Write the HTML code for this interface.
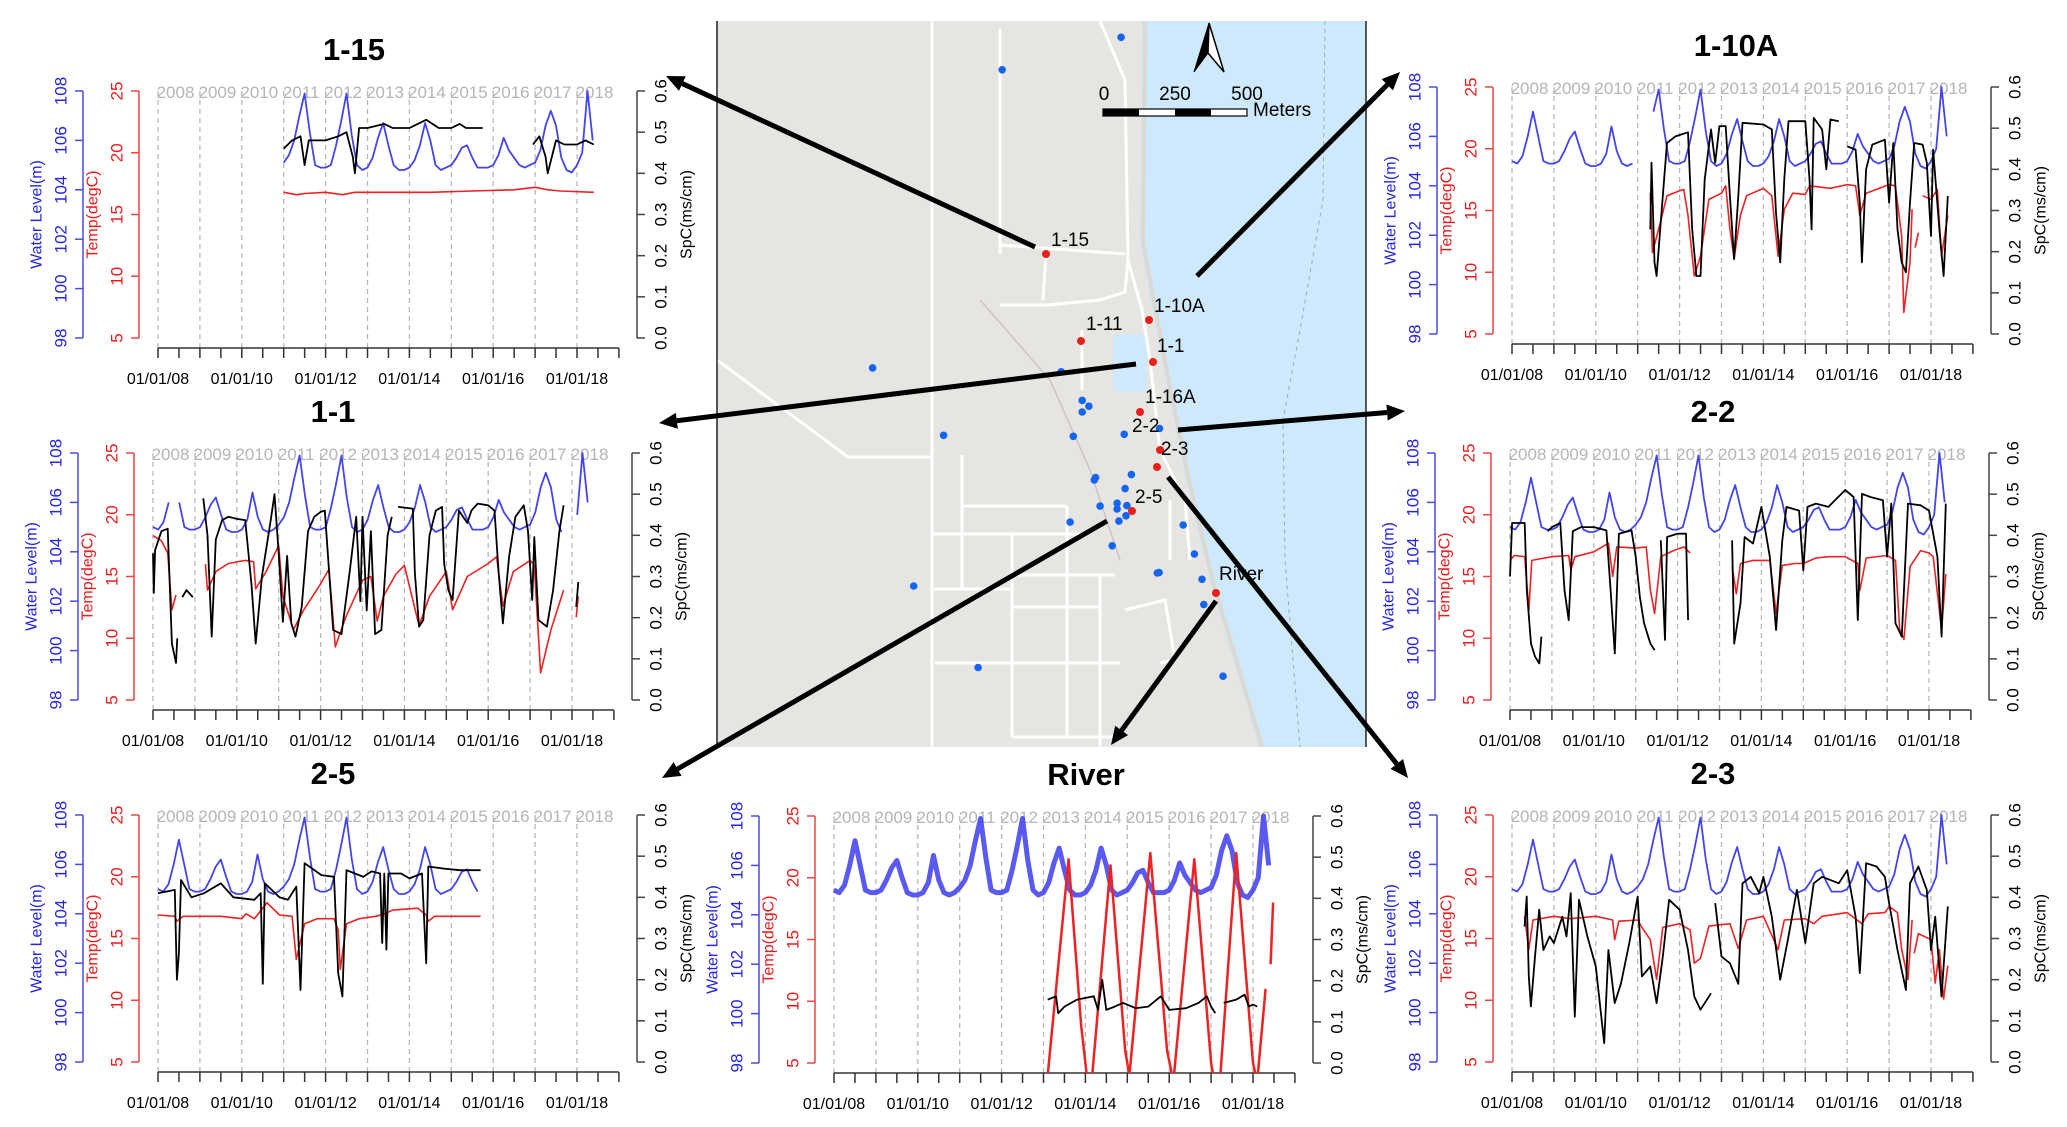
<!DOCTYPE html>
<html><head><meta charset="utf-8">
<style>
html,body{margin:0;padding:0;background:#fff;}
svg{display:block;font-family:"Liberation Sans",Arial,sans-serif;}
</style></head>
<body>
<svg id="fig" width="2067" height="1127" viewBox="0 0 2067 1127" xmlns="http://www.w3.org/2000/svg">
<g id="map"></g>
<g id="panels"></g>
<g id="arrows"></g>
</svg>
<script>
// ---------- shared water level (m), every 1/8 year from 2008.0 ----------
const wlStart = 2008.0;
const wlStep = 0.125;
const wlValues = [
105.0,104.9,105.2,106.0,107.0,106.0,105.0,104.9,
104.9,105.0,105.4,105.9,106.2,105.5,104.9,104.8,
104.8,104.9,105.3,106.4,105.4,104.9,104.8,104.9,
105.1,105.4,106.0,107.0,107.9,106.3,105.0,104.9,
104.9,105.0,105.8,106.8,107.9,106.2,105.0,104.8,
104.9,105.3,106.1,106.7,105.8,105.0,104.8,104.8,
104.9,105.2,105.8,106.7,106.0,105.0,104.8,104.9,
105.0,105.3,105.7,105.8,105.3,104.9,104.9,104.9,
105.0,105.4,106.1,105.6,105.3,105.0,104.9,105.0,
105.1,105.6,106.6,107.2,106.6,105.3,104.8,104.7,
105.0,105.5,108.0,106.0
];
const wlRange_1_15 = [[2010.97,2018.4]];
const wlRange_1_1 = [[2008.0,2008.45],[2008.6,2017.8],[2018.05,2018.375]];
const wlRange_1_10A = [[2008.0,2010.95],[2011.3,2018.375]];
const wlRange_2_2 = [[2008.0,2018.375]];
const wlRange_2_5 = [[2008.0,2015.7]];
const wlRange_river = [[2008.0,2018.375]];
const wlRange_2_3 = [[2008.0,2018.375]];

// ---------- temperature (degC) [year, value], null = gap ----------
const temp_1_15 = [[2011.0,16.8],[2011.3,16.6],[2011.5,16.7],[2012.0,16.8],[2012.4,16.6],[2012.7,16.8],[2013.5,16.8],[2014.5,16.8],[2015.5,16.9],[2016.5,17.0],[2017.0,17.2],[2017.3,17.0],[2017.6,16.9],[2018.4,16.8]];
const temp_1_1 = [[2008.0,18.3],[2008.2,17.9],[2008.35,16.9],[2008.45,12.3],[2008.55,13.5],null,[2009.25,16.0],[2009.3,13.9],[2009.5,15.4],[2009.8,16.05],[2010.2,16.3],[2010.4,16.2],[2010.45,14.0],[2010.7,15.4],[2011.0,17.5],[2011.1,13.4],[2011.35,10.7],[2011.6,12.3],[2012.0,14.4],[2012.2,15.6],[2012.35,9.3],[2012.6,11.7],[2013.0,14.7],[2013.2,15.0],[2013.35,11.4],[2013.5,13.4],[2013.8,15.2],[2014.0,15.9],[2014.35,11.0],[2014.6,13.4],[2015.0,15.4],[2015.15,12.3],[2015.5,15.0],[2016.0,16.05],[2016.2,16.6],[2016.35,12.6],[2016.6,15.4],[2017.0,16.3],[2017.1,15.9],[2017.25,7.2],[2017.5,10.7],[2017.8,13.9],null,[2018.1,11.7],[2018.15,13.4]];
const temp_1_10A = [[2011.3,16.4],[2011.35,11.6],[2011.5,13.5],[2011.7,16.2],[2012.0,16.6],[2012.1,16.7],[2012.2,14.6],[2012.35,9.7],[2012.5,11.3],[2012.7,15.9],[2013.0,16.4],[2013.1,17.0],[2013.2,13.5],[2013.3,11.1],[2013.45,14.6],[2013.6,16.2],[2014.0,16.8],[2014.2,16.2],[2014.35,11.3],[2014.5,15.1],[2014.7,16.4],[2015.0,16.3],[2015.1,17.0],[2015.6,16.8],[2016.0,17.1],[2016.2,17.0],[2016.3,14.6],[2016.45,16.4],[2017.0,17.1],[2017.15,17.0],[2017.3,12.9],[2017.35,6.75],[2017.5,10.8],[2017.55,15.1],null,[2017.62,12.0],[2017.7,13.2],null,[2017.8,16.2],[2018.0,15.9],[2018.15,16.7],[2018.25,11.3],[2018.4,14.6]];
const temp_2_2 = [[2008.0,16.3],[2008.1,16.7],[2008.35,16.6],[2008.45,12.3],[2008.52,16.3],[2009.0,16.6],[2009.4,16.7],[2009.45,15.5],[2009.55,16.6],[2010.0,17.0],[2010.35,17.7],[2010.45,15.0],[2010.55,17.4],[2011.0,17.3],[2011.25,17.4],[2011.35,13.9],[2011.45,12.0],[2011.6,16.6],[2011.9,17.1],[2012.15,17.4],[2012.3,16.9],null,[2013.3,15.8],[2013.4,13.6],[2013.5,16.05],[2013.8,16.3],[2014.2,16.3],[2014.35,12.0],[2014.5,15.9],[2014.8,16.05],[2015.0,16.05],[2015.3,16.5],[2015.6,16.6],[2016.0,16.6],[2016.3,16.05],[2016.35,13.9],[2016.5,16.5],[2017.0,16.7],[2017.2,16.3],[2017.3,10.7],[2017.4,9.9],[2017.55,15.8],[2017.8,17.1],[2018.0,16.9],[2018.1,16.6],[2018.3,10.7],[2018.4,15.2]];
const temp_2_5 = [[2008.0,16.9],[2008.4,16.8],[2008.45,16.4],[2008.6,16.8],[2009.5,16.8],[2010.0,16.6],[2010.1,17.0],[2010.3,16.6],[2010.6,17.9],[2010.9,16.9],[2011.2,16.8],[2011.3,13.3],[2011.5,16.2],[2011.8,16.6],[2012.2,16.6],[2012.3,15.7],[2012.35,12.5],[2012.5,16.2],[2012.8,16.6],[2013.2,16.8],[2013.4,17.0],[2013.6,17.3],[2014.2,17.45],[2014.4,16.9],[2014.45,16.4],[2014.6,16.8],[2015.7,16.8]];
const temp_river = [[2013.1,4.0],[2013.6,21.5],[2013.9,8.0],[2014.05,3.5],[2014.15,3.5],[2014.6,21.0],[2014.95,6.0],[2015.05,4.0],[2015.55,22.0],[2015.95,6.0],[2016.1,3.5],[2016.6,21.5],[2017.0,5.0],[2017.1,3.0],[2017.2,3.0],[2017.6,22.0],[2018.0,5.0],[2018.1,3.5],[2018.3,11.0],null,[2018.42,13.0],[2018.48,18.0]];
const temp_2_3 = [[2008.3,16.8],[2008.4,14.1],[2008.5,16.5],[2009.0,16.8],[2009.4,16.6],[2010.0,16.8],[2010.4,16.5],[2010.45,14.9],[2010.55,16.4],[2011.0,16.5],[2011.1,15.9],[2011.3,14.9],[2011.45,11.7],[2011.6,15.9],[2012.0,16.2],[2012.25,15.7],[2012.35,13.0],[2012.5,13.4],[2012.7,16.0],[2013.2,16.2],[2013.4,14.2],[2013.6,16.5],[2014.0,16.8],[2014.35,14.1],[2014.5,16.5],[2015.0,16.6],[2015.2,16.2],[2015.4,16.8],[2016.0,17.1],[2016.35,16.2],[2016.5,17.0],[2016.9,17.1],[2017.0,17.6],[2017.2,17.1],[2017.3,14.1],[2017.45,11.7],[2017.55,16.5],null,[2017.6,13.8],[2017.7,15.4],[2018.0,14.9],[2018.1,11.4],[2018.2,14.1],[2018.3,10.1],[2018.4,12.8]];

// ---------- specific conductance (mS/cm) [year, value] ----------
const spc_1_15 = [[2011.0,0.46],[2011.2,0.48],[2011.4,0.49],[2011.5,0.42],[2011.6,0.48],[2012.0,0.48],[2012.3,0.49],[2012.5,0.50],[2012.65,0.44],[2012.7,0.40],[2012.8,0.51],[2013.0,0.51],[2013.4,0.52],[2013.6,0.51],[2014.0,0.51],[2014.4,0.53],[2014.7,0.51],[2015.0,0.51],[2015.2,0.52],[2015.35,0.51],[2015.75,0.51],null,[2016.95,0.47],[2017.1,0.49],[2017.25,0.44],[2017.3,0.40],[2017.5,0.48],[2017.7,0.47],[2018.0,0.47],[2018.2,0.48],[2018.4,0.47]];
const spc_1_1 = [[2008.0,0.356],[2008.02,0.26],[2008.05,0.364],[2008.2,0.41],[2008.35,0.416],[2008.45,0.137],[2008.55,0.09],[2008.58,0.15],null,[2008.7,0.25],[2008.8,0.267],[2008.95,0.25],null,[2009.2,0.49],[2009.3,0.40],[2009.4,0.154],[2009.5,0.39],[2009.65,0.437],[2009.8,0.445],[2010.0,0.44],[2010.2,0.437],[2010.35,0.28],[2010.45,0.137],[2010.6,0.30],[2010.8,0.43],[2010.9,0.50],[2011.0,0.356],[2011.1,0.19],[2011.2,0.35],[2011.3,0.186],[2011.4,0.154],[2011.55,0.226],[2011.7,0.41],[2011.85,0.445],[2012.0,0.457],[2012.1,0.46],[2012.2,0.315],[2012.3,0.17],[2012.5,0.16],[2012.7,0.315],[2012.85,0.445],[2012.95,0.24],[2013.0,0.445],[2013.1,0.218],[2013.2,0.41],[2013.3,0.16],[2013.45,0.17],[2013.6,0.40],[2013.7,0.445],null,[2013.85,0.469],[2014.2,0.465],[2014.25,0.307],[2014.35,0.178],[2014.45,0.194],[2014.6,0.40],[2014.75,0.46],[2014.9,0.469],[2014.95,0.33],[2015.05,0.267],[2015.15,0.243],[2015.3,0.46],[2015.5,0.43],[2015.6,0.46],[2015.75,0.477],[2016.0,0.473],[2016.15,0.46],[2016.25,0.307],[2016.35,0.186],[2016.5,0.348],[2016.65,0.445],[2016.85,0.473],[2016.95,0.41],[2017.05,0.243],[2017.1,0.396],[2017.2,0.194],[2017.4,0.178],[2017.55,0.267],[2017.7,0.41],[2017.8,0.473],null,[2018.1,0.226],[2018.15,0.287]];
const spc_1_10A = [[2011.3,0.254],[2011.33,0.416],[2011.4,0.174],[2011.45,0.141],[2011.6,0.335],[2011.7,0.464],[2011.9,0.48],[2012.2,0.49],[2012.3,0.254],[2012.4,0.141],[2012.5,0.141],[2012.6,0.376],[2012.75,0.497],[2012.85,0.416],[2012.95,0.505],[2013.1,0.505],[2013.2,0.335],[2013.3,0.182],[2013.4,0.335],[2013.5,0.513],[2014.0,0.509],[2014.2,0.497],[2014.3,0.295],[2014.4,0.174],[2014.5,0.376],[2014.6,0.517],[2015.0,0.517],[2015.1,0.376],[2015.15,0.254],[2015.2,0.525],[2015.4,0.497],[2015.5,0.40],[2015.6,0.521],[2015.8,0.517],null,[2016.0,0.456],[2016.2,0.448],[2016.3,0.319],[2016.35,0.174],[2016.45,0.40],[2016.6,0.46],[2016.9,0.472],[2017.0,0.319],[2017.1,0.464],[2017.2,0.254],[2017.3,0.174],[2017.4,0.15],[2017.5,0.319],[2017.6,0.464],[2017.8,0.46],[2017.9,0.416],[2018.0,0.238],[2018.05,0.448],[2018.2,0.254],[2018.3,0.141],[2018.4,0.335]];
const spc_2_2 = [[2008.0,0.30],[2008.05,0.43],[2008.35,0.43],[2008.4,0.267],[2008.5,0.137],[2008.6,0.105],[2008.7,0.089],[2008.75,0.154],null,[2008.9,0.41],[2009.0,0.42],[2009.2,0.43],[2009.3,0.267],[2009.4,0.194],[2009.5,0.41],[2009.7,0.42],[2010.0,0.42],[2010.3,0.412],[2010.4,0.267],[2010.5,0.113],[2010.6,0.404],[2010.9,0.412],[2011.0,0.348],[2011.1,0.25],[2011.2,0.186],[2011.35,0.137],[2011.45,0.121],null,[2011.6,0.388],[2011.7,0.146],[2011.75,0.396],[2012.0,0.404],[2012.2,0.404],[2012.25,0.194],null,[2013.3,0.388],[2013.35,0.137],[2013.5,0.235],[2013.6,0.396],[2013.8,0.38],[2014.0,0.469],[2014.2,0.348],[2014.35,0.17],[2014.5,0.388],[2014.6,0.469],[2014.9,0.46],[2015.0,0.315],[2015.1,0.469],[2015.3,0.477],[2015.6,0.469],[2016.0,0.51],[2016.2,0.493],[2016.3,0.194],[2016.4,0.501],[2016.6,0.493],[2016.9,0.485],[2017.0,0.348],[2017.1,0.477],[2017.2,0.186],[2017.35,0.154],[2017.5,0.477],[2017.8,0.473],[2018.0,0.46],[2018.2,0.348],[2018.3,0.154],[2018.4,0.477]];
const spc_2_5 = [[2008.0,0.41],[2008.4,0.418],[2008.45,0.20],[2008.5,0.264],[2008.55,0.442],[2008.8,0.40],[2009.1,0.41],[2009.5,0.434],[2009.8,0.40],[2010.3,0.394],[2010.45,0.41],[2010.5,0.19],[2010.55,0.434],[2010.9,0.40],[2011.1,0.394],[2011.3,0.426],[2011.4,0.175],[2011.5,0.483],[2011.9,0.454],[2012.2,0.45],[2012.3,0.216],[2012.4,0.159],[2012.5,0.466],[2012.7,0.458],[2012.9,0.45],[2013.1,0.463],[2013.3,0.458],[2013.35,0.289],[2013.4,0.458],[2013.45,0.273],[2013.5,0.458],[2013.8,0.458],[2014.0,0.446],[2014.3,0.458],[2014.4,0.24],[2014.45,0.475],[2014.8,0.47],[2015.2,0.466],[2015.7,0.466]];
const spc_river = [[2013.1,0.154],[2013.3,0.162],[2013.35,0.121],[2013.5,0.137],[2013.8,0.154],[2014.2,0.162],[2014.3,0.129],[2014.4,0.202],[2014.5,0.129],[2014.7,0.137],[2014.9,0.146],[2015.2,0.133],[2015.5,0.137],[2015.8,0.162],[2016.0,0.129],[2016.4,0.133],[2016.7,0.146],[2016.9,0.162],[2017.0,0.137],[2017.1,0.121],null,[2017.3,0.146],[2017.6,0.154],[2017.8,0.166],[2017.9,0.137],[2018.0,0.142],[2018.1,0.137]];
const spc_2_3 = [[2008.3,0.329],[2008.35,0.402],[2008.4,0.208],[2008.45,0.135],[2008.55,0.256],[2008.65,0.37],[2008.75,0.272],[2008.9,0.305],[2009.0,0.289],[2009.2,0.353],[2009.3,0.305],[2009.4,0.41],[2009.5,0.11],[2009.6,0.394],[2009.8,0.305],[2010.0,0.232],[2010.2,0.046],[2010.3,0.272],[2010.45,0.143],[2010.6,0.19],[2010.8,0.289],[2011.0,0.402],[2011.1,0.208],[2011.3,0.232],[2011.45,0.143],[2011.6,0.256],[2011.75,0.394],[2012.0,0.37],[2012.2,0.272],[2012.35,0.159],[2012.5,0.127],[2012.75,0.167],null,[2012.85,0.386],[2013.0,0.256],[2013.2,0.24],[2013.4,0.19],[2013.5,0.434],[2013.7,0.45],[2013.9,0.41],[2014.0,0.45],[2014.2,0.353],[2014.4,0.20],[2014.6,0.305],[2014.8,0.418],[2015.0,0.289],[2015.2,0.434],[2015.4,0.45],[2015.8,0.434],[2016.0,0.466],[2016.2,0.353],[2016.3,0.216],[2016.45,0.483],[2016.7,0.475],[2016.9,0.45],[2017.0,0.386],[2017.2,0.272],[2017.4,0.175],[2017.5,0.434],[2017.7,0.475],[2017.9,0.418],[2018.0,0.272],[2018.1,0.353],[2018.25,0.159],[2018.35,0.305],[2018.4,0.378]];

// ---------- axis tick labels ----------
const yearLabels = ["2008","2009","2010","2011","2012","2013","2014","2015","2016","2017","2018"];
const dateLabels = ["01/01/08","01/01/10","01/01/12","01/01/14","01/01/16","01/01/18"];
const wlTicks = [98,100,102,104,106,108];
const tempTicks = [5,10,15,20,25];
const spcTicks = ["0.0","0.1","0.2","0.3","0.4","0.5","0.6"];

const panels = [
 {id:"1-15", ox:0, oy:0, tx:354, wl:wlRange_1_15, temp:temp_1_15, spc:spc_1_15},
 {id:"1-1", ox:-5, oy:362, tx:333, wl:wlRange_1_1, temp:temp_1_1, spc:spc_1_1},
 {id:"1-10A", ox:1354, oy:-4, tx:1736, wl:wlRange_1_10A, temp:temp_1_10A, spc:spc_1_10A},
 {id:"2-2", ox:1352, oy:362, tx:1713, wl:wlRange_2_2, temp:temp_2_2, spc:spc_2_2},
 {id:"2-5", ox:0, oy:724, tx:333, wl:wlRange_2_5, temp:temp_2_5, spc:spc_2_5},
 {id:"River", ox:676, oy:725, tx:1086, wl:wlRange_river, temp:temp_river, spc:spc_river, river:true},
 {id:"2-3", ox:1354, oy:724, tx:1713, wl:wlRange_2_3, temp:temp_2_3, spc:spc_2_3}
];

const NS = "http://www.w3.org/2000/svg";
function mk(tag, attrs, parent, text){
  const e = document.createElementNS(NS, tag);
  for (const k in attrs) e.setAttribute(k, attrs[k]);
  if (text !== undefined) e.textContent = text;
  parent.appendChild(e);
  return e;
}
const X0=158, YW=41.9, TOP=91, BOT=338, XAX=348, BLX=83, RDX=139, RTX=637;
function xs(p,t){return p.ox + X0 + (t-2008)*YW;}
function yB(p,v){return p.oy + BOT - (v-98)/10*(BOT-TOP);}
function yR(p,v){return p.oy + BOT - (v-5)/20*(BOT-TOP);}
function yS(p,v){return p.oy + BOT - v/0.6*(BOT-TOP);}
function pathFrom(p, pts, yf){
  let d="", pen=false;
  for (const q of pts){
    if (q===null){pen=false;continue;}
    d += (pen?"L":"M") + xs(p,q[0]).toFixed(1)+","+yf(p,q[1]).toFixed(1);
    pen=true;
  }
  return d;
}

const panelsG = document.getElementById("panels");
panels.forEach(function(p){
  const g = mk("g",{},panelsG);
  
  
  const t = mk("text",{x:p.tx,y:p.oy+60,"text-anchor":"middle","font-size":31,"font-weight":"bold",fill:"#000"},g,p.id);
  
  
  const top=p.oy+TOP, bot=p.oy+BOT;
  const cid="clip"+p.id.replace(/[^A-Za-z0-9]/g,"");
  const cp = mk("clipPath",{id:cid},g);
  mk("rect",{x:xs(p,2007.9),y:top-10,width:(11.3)*YW,height:XAX-TOP+10},cp);
  const grid = mk("g",{},g);
  
  
  yearLabels.forEach(function(lab,i){
    const x = xs(p,2008+i);
    mk("line",{x1:x,y1:top,x2:x,y2:p.oy+XAX,stroke:"#b8b8b8","stroke-width":1.3,"stroke-dasharray":"5,4"},grid);
    const yl = mk("text",{x:x+17.5,y:top+7,"text-anchor":"middle","font-size":17,fill:"#b5b5b5"},grid,lab);
    
    
  });
  const xa = mk("g",{},g);
  
  
  mk("line",{x1:xs(p,2008),y1:p.oy+XAX,x2:xs(p,2019),y2:p.oy+XAX,stroke:"#333","stroke-width":1.5},xa);
  for (let k=0;k<=22;k++){
    const x=xs(p,2008+k*0.5);
    mk("line",{x1:x,y1:p.oy+XAX,x2:x,y2:p.oy+XAX+10,stroke:"#333","stroke-width":1.5},xa);
  }
  dateLabels.forEach(function(lab,i){
    const dl = mk("text",{x:xs(p,2008+2*i),y:p.oy+XAX+36,"text-anchor":"middle","font-size":16,fill:"#000"},xa,lab);
    
    
  });
  const ba = mk("g",{},g);
  
  
  const bx=p.ox+BLX;
  mk("line",{x1:bx,y1:top,x2:bx,y2:bot,stroke:"#4a4ae8","stroke-width":1.5},ba);
  wlTicks.forEach(function(v){
    const y=yB(p,v);
    mk("line",{x1:bx-8,y1:y,x2:bx,y2:y,stroke:"#4a4ae8","stroke-width":1.5},ba);
    mk("text",{x:0,y:0,transform:"translate("+(bx-22)+","+y+") rotate(-90)","text-anchor":"middle","dominant-baseline":"central","font-size":17,fill:"#2424e6"},ba,String(v));
  });
  const bt = mk("text",{transform:"translate("+(bx-46)+","+((top+bot)/2)+") rotate(-90)","text-anchor":"middle","dominant-baseline":"central","font-size":16,fill:"#2424e6"},ba,"Water Level(m)");
  
  
  const ra = mk("g",{},g);
  
  
  const rx=p.ox+RDX;
  mk("line",{x1:rx,y1:top,x2:rx,y2:bot,stroke:"#ee4444","stroke-width":1.5},ra);
  tempTicks.forEach(function(v){
    const y=yR(p,v);
    mk("line",{x1:rx-8,y1:y,x2:rx,y2:y,stroke:"#ee4444","stroke-width":1.5},ra);
    mk("text",{transform:"translate("+(rx-22)+","+y+") rotate(-90)","text-anchor":"middle","dominant-baseline":"central","font-size":17,fill:"#e81c1c"},ra,String(v));
  });
  const rt = mk("text",{transform:"translate("+(rx-46)+","+((top+bot)/2)+") rotate(-90)","text-anchor":"middle","dominant-baseline":"central","font-size":16,fill:"#e81c1c"},ra,"Temp(degC)");
  
  
  const sa = mk("g",{},g);
  
  
  const sx=p.ox+RTX;
  mk("line",{x1:sx,y1:top,x2:sx,y2:bot,stroke:"#444","stroke-width":1.5},sa);
  spcTicks.forEach(function(lab){
    const y=yS(p,parseFloat(lab));
    mk("line",{x1:sx,y1:y,x2:sx+8,y2:y,stroke:"#444","stroke-width":1.5},sa);
    mk("text",{transform:"translate("+(sx+24)+","+y+") rotate(-90)","text-anchor":"middle","dominant-baseline":"central","font-size":17,fill:"#000"},sa,lab);
  });
  const st = mk("text",{transform:"translate("+(sx+50)+","+((top+bot)/2)+") rotate(-90)","text-anchor":"middle","dominant-baseline":"central","font-size":16,fill:"#000"},sa,"SpC(ms/cm)");
  
  
  const sg = mk("g",{"clip-path":"url(#"+cid+")"},g);
  
  
  let d="";
  p.wl.forEach(function(r){
    let pts=[];
    wlValues.forEach(function(v,i){
      const t=wlStart+i*wlStep;
      if (t>=r[0]-1e-6 && t<=r[1]+1e-6) pts.push([t,v]);
    });
    d += pathFrom(p,pts,yB);
  });
  const wlp = mk("path",{d:d,fill:"none",stroke:p.river?"#3d3df0":"#4444ee","stroke-width":p.river?5:1.8,"stroke-opacity":p.river?0.85:1,"stroke-linejoin":"round"},sg);
  
  
  const tp = mk("path",{d:pathFrom(p,p.temp,yR),fill:"none",stroke:"#ee2222","stroke-width":p.river?2.5:1.6,"stroke-linejoin":"round"},sg);
  
  
  const sp = mk("path",{d:pathFrom(p,p.spc,yS),fill:"none",stroke:"#000","stroke-width":1.8,"stroke-linejoin":"round"},sg);
  
  
});

// ---------- map ----------
const mapG = document.getElementById("map");
mk("rect",{x:717,y:21,width:649,height:726,fill:"#e7e5e1"},mapG);
mk("path",{d:"M1142,21 L1140,243 L1167,388 L1187,485 L1210,582 L1259,747 L1366,747 L1366,21 Z",fill:"#cde9fb"},mapG);
mk("path",{d:"M1145,21 L1143,243 L1170,388 L1190,485 L1213,582 L1262,747",fill:"none",stroke:"#dcd9d3","stroke-width":4},mapG);
mk("path",{d:"M1325,21 L1323,200 L1300,330 L1283,420 L1285,560 L1300,747",fill:"none",stroke:"#9ab","stroke-width":1,"stroke-dasharray":"4,4"},mapG);
mk("rect",{x:1113,y:334,width:34,height:58,rx:6,fill:"#cde9fb"},mapG);
const roads = [
 "M932,21 L932,747","M1000,29 L1000,254","M1100,21 L1125,80 L1128,260 L1125,292 L1100,300 L1047,305 L1000,305",
 "M1128,260 L1142,310 L1150,360 L1160,450 L1185,500 L1190,560",
 "M1000,245 L1125,254","M1046,254 L1043,300","M1082,330 L1082,390",
 "M717,360 L848,457 L932,457","M932,534 L1080,534","M963,506 L1066,506","M962,455 L962,590",
 "M935,663 L1120,663","M1010,575 L1115,575","M934,589 L1010,589","M1013,607 L1100,607",
 "M1013,737 L1120,737","M1067,506 L1067,737","M1100,575 L1100,747","M1012,535 L1012,737",
 "M1125,610 L1165,600 L1175,660 L1160,663","M1170,500 L1170,560"
];
roads.forEach(function(r){
  const rd = mk("path",{d:r,fill:"none",stroke:"#ffffff","stroke-width":3},mapG);
  
  
});
mk("path",{d:"M980,300 L1050,380 L1090,470 L1120,560",fill:"none",stroke:"#c9c6c0","stroke-width":1.5},mapG);
mk("line",{x1:717,y1:21,x2:717,y2:747,stroke:"#222","stroke-width":1.5},mapG);
mk("line",{x1:1366,y1:21,x2:1366,y2:747,stroke:"#222","stroke-width":1.5},mapG);
const blueDots = [[942,77],[676,144],[386,759],[545,898],[855,826],[870,838],[855,850],[835,900],[949,896],[1028,884],[885,985],[882,990],[965,979],[951,1008],[933,1038],[955,1043],[895,1044],[933,1050],[953,1064],[937,1075],[828,1077],[1081,1083],[922,1126],[1106,1143],[1023,1182],[1027,1181],[1123,1195],[1127,1247],[478,1209],[622,1377],[1170,1395],[808,767]];
blueDots.forEach(function(b){
  const c = mk("circle",{cx:(b[0]/2.237+700).toFixed(1),cy:(b[1]/2.063).toFixed(1),r:3.8,fill:"#1565f0"},mapG);
  
  
});
const siteNames = ["1-15","1-10A","1-11","1-1","1-16A","2-2","2-3","2-5","River"];
const sitePos = [[1046,254],[1149,320],[1081,341],[1153,362],[1140,412],[1160,450],[1157,467],[1132,511],[1216,593]];
const siteLabelPos = [[1051,246],[1154,312],[1086,330],[1157,352],[1145,403],[1132,432],[1161,455],[1135,503],[1219,580]];
sitePos.forEach(function(s){
  const c = mk("circle",{cx:s[0],cy:s[1],r:4,fill:"#e8201c"},mapG);
  
  
});
siteNames.forEach(function(n,i){
  const tl = mk("text",{x:siteLabelPos[i][0],y:siteLabelPos[i][1],"font-size":19,fill:"#000"},mapG,n);
  
  
});
const sb = mk("g",{},mapG);


mk("rect",{x:1103,y:109,width:144,height:7,fill:"#fff",stroke:"#000","stroke-width":1.2},sb);
mk("rect",{x:1103,y:109,width:36,height:7,fill:"#000"},sb);
mk("rect",{x:1175,y:109,width:36,height:7,fill:"#000"},sb);
mk("text",{x:1104,y:100,"text-anchor":"middle","font-size":19},sb,"0");
mk("text",{x:1175,y:100,"text-anchor":"middle","font-size":19},sb,"250");
mk("text",{x:1247,y:100,"text-anchor":"middle","font-size":19},sb,"500");
mk("text",{x:1253,y:116,"font-size":19},sb,"Meters");
const na = mk("g",{},mapG);


mk("path",{d:"M1209,23 L1194,72 L1208,53 Z",fill:"#000",stroke:"#000","stroke-width":1},na);
mk("path",{d:"M1209,23 L1224,72 L1208,53 Z",fill:"#fff",stroke:"#000","stroke-width":1.5},na);

// ---------- arrows ----------
const arrowsG = document.getElementById("arrows");
const arrowList = [
 [1035,247,666,76,"arrow-to-1-15"],[1197,276,1400,72,"arrow-to-1-10a"],[1136,364,659,423,"arrow-to-1-1"],
 [1178,430,1405,411,"arrow-to-2-2"],[1168,477,1408,778,"arrow-to-2-3"],[1107,521,662,778,"arrow-to-2-5"],[1216,601,1111,745,"arrow-to-river"]
];
arrowList.forEach(function(a){
  const g = mk("g",{},arrowsG);
  
  
  const dx=a[2]-a[0], dy=a[3]-a[1], L=Math.hypot(dx,dy), ux=dx/L, uy=dy/L;
  const hx=a[2]-ux*18, hy=a[3]-uy*18;
  mk("line",{x1:a[0],y1:a[1],x2:hx,y2:hy,stroke:"#000","stroke-width":5},g);
  mk("polygon",{points:a[2]+","+a[3]+" "+(hx-uy*8)+","+(hy+ux*8)+" "+(hx+uy*8)+","+(hy-ux*8),fill:"#000"},g);
});
</script>
</body></html>
